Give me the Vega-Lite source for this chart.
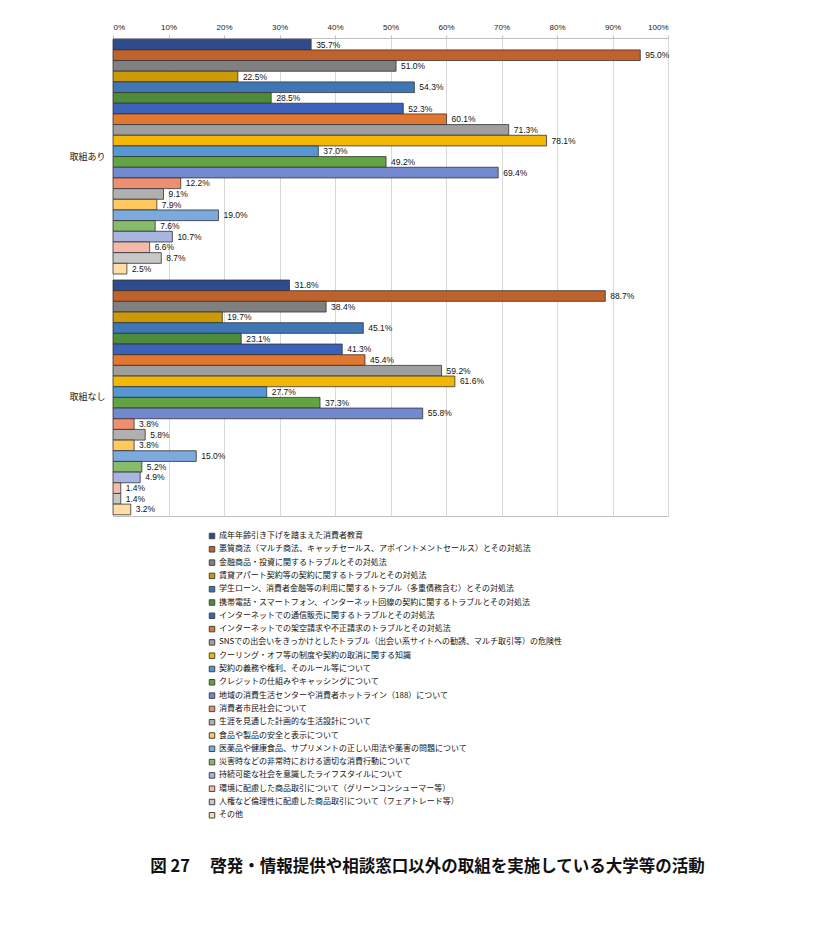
{
  "$schema": "https://vega.github.io/schema/vega-lite/v6.json",
  "autosize": {"type": "none"},
  "padding": {"left": 113, "top": 38, "right": 158, "bottom": 416},
  "width": 555,
  "height": 478,
  "background": "white",
  "title": {
    "text": "図 27　 啓発・情報提供や相談窓口以外の取組を実施している大学等の活動",
    "orient": "bottom",
    "anchor": "middle",
    "offset": 38,
    "dx": 37,
    "font": "Noto Sans CJK JP",
    "fontSize": 16.5,
    "fontWeight": "bold",
    "color": "#111"
  },
  "data": {
    "values": [
      {"o": 1, "item": "成年年齢引き下げを踏まえた消費者教育", "取組あり": 0.357, "取組なし": 0.318},
      {"o": 2, "item": "悪質商法（マルチ商法、キャッチセールス、アポイントメントセールス）とその対処法", "取組あり": 0.950, "取組なし": 0.887},
      {"o": 3, "item": "金融商品・投資に関するトラブルとその対処法", "取組あり": 0.510, "取組なし": 0.384},
      {"o": 4, "item": "賃貸アパート契約等の契約に関するトラブルとその対処法", "取組あり": 0.225, "取組なし": 0.197},
      {"o": 5, "item": "学生ローン、消費者金融等の利用に関するトラブル（多重債務含む）とその対処法", "取組あり": 0.543, "取組なし": 0.451},
      {"o": 6, "item": "携帯電話・スマートフォン、インターネット回線の契約に関するトラブルとその対処法", "取組あり": 0.285, "取組なし": 0.231},
      {"o": 7, "item": "インターネットでの通信販売に関するトラブルとその対処法", "取組あり": 0.523, "取組なし": 0.413},
      {"o": 8, "item": "インターネットでの架空請求や不正請求のトラブルとその対処法", "取組あり": 0.601, "取組なし": 0.454},
      {"o": 9, "item": "SNSでの出会いをきっかけとしたトラブル（出会い系サイトへの勧誘、マルチ取引等）の危険性", "取組あり": 0.713, "取組なし": 0.592},
      {"o": 10, "item": "クーリング・オフ等の制度や契約の取消に関する知識", "取組あり": 0.781, "取組なし": 0.616},
      {"o": 11, "item": "契約の義務や権利、そのルール等について", "取組あり": 0.370, "取組なし": 0.277},
      {"o": 12, "item": "クレジットの仕組みやキャッシングについて", "取組あり": 0.492, "取組なし": 0.373},
      {"o": 13, "item": "地域の消費生活センターや消費者ホットライン（188）について", "取組あり": 0.694, "取組なし": 0.558},
      {"o": 14, "item": "消費者市民社会について", "取組あり": 0.122, "取組なし": 0.038},
      {"o": 15, "item": "生涯を見通した計画的な生活設計について", "取組あり": 0.091, "取組なし": 0.058},
      {"o": 16, "item": "食品や製品の安全と表示について", "取組あり": 0.079, "取組なし": 0.038},
      {"o": 17, "item": "医薬品や健康食品、サプリメントの正しい用法や薬害の問題について", "取組あり": 0.190, "取組なし": 0.150},
      {"o": 18, "item": "災害時などの非常時における適切な消費行動について", "取組あり": 0.076, "取組なし": 0.052},
      {"o": 19, "item": "持続可能な社会を意識したライフスタイルについて", "取組あり": 0.107, "取組なし": 0.049},
      {"o": 20, "item": "環境に配慮した商品取引について（グリーンコンシューマー等）", "取組あり": 0.066, "取組なし": 0.014},
      {"o": 21, "item": "人権など倫理性に配慮した商品取引について（フェアトレード等）", "取組あり": 0.087, "取組なし": 0.014},
      {"o": 22, "item": "その他", "取組あり": 0.025, "取組なし": 0.032}
    ]
  },
  "transform": [
    {"fold": ["取組あり", "取組なし"], "as": ["g", "v"]}
  ],
  "config": {
    "view": {"stroke": "#bfbfbf", "strokeWidth": 1},
    "font": "Noto Sans CJK JP"
  },
  "encoding": {
    "y": {
      "field": "g",
      "type": "nominal",
      "sort": ["取組あり", "取組なし"],
      "scale": {"paddingInner": 0.025, "paddingOuter": 0.005},
      "axis": {
        "title": null,
        "ticks": false,
        "labelFontSize": 9,
        "labelColor": "#111",
        "labelPadding": 8,
        "domainColor": "#bfbfbf",
        "labelFont": "Noto Sans CJK JP"
      }
    },
    "yOffset": {
      "field": "item",
      "type": "nominal",
      "sort": {"field": "o", "op": "min"},
      "scale": {"paddingInner": 0, "paddingOuter": 0}
    },
    "x": {
      "field": "v",
      "type": "quantitative",
      "scale": {"domain": [0, 1]},
      "axis": {
        "orient": "top",
        "title": null,
        "format": "%",
        "values": [0, 0.1, 0.2, 0.3, 0.4, 0.5, 0.6, 0.7, 0.8, 0.9, 1],
        "labelFontSize": 8,
        "labelColor": "#222",
        "labelFont": "Liberation Sans",
        "gridColor": "#d9d9d9",
        "domainColor": "#bfbfbf",
        "tickColor": "#bfbfbf",
        "tickSize": 3,
        "labelPadding": 4
      }
    }
  },
  "layer": [
    {
      "mark": {"type": "bar", "stroke": "#333", "strokeWidth": 0.8},
      "encoding": {
        "color": {
          "field": "item",
          "type": "nominal",
          "sort": {"field": "o", "op": "min"},
          "scale": {
            "range": ["#2F4B8C", "#C0622B", "#808080", "#CC9A06", "#3F77B5", "#4E8B3A", "#3B62B8", "#E2772F", "#9E9E9E", "#F2B705", "#5696D2", "#62A444", "#7289CF", "#EE9070", "#B0B0B0", "#FFC95E", "#7CA9DE", "#86BC6A", "#A7B5E0", "#F4B9A8", "#C8C8C8", "#FFDDA6"]
          },
          "legend": {
            "orient": "none",
            "legendX": 95,
            "legendY": 494,
            "title": null,
            "symbolType": "square",
            "symbolSize": 30,
            "symbolStrokeColor": "#444",
            "symbolStrokeWidth": 1,
            "labelFontSize": 8,
            "labelColor": "#111",
            "labelLimit": 500,
            "rowPadding": 3.3,
            "labelOffset": 3,
            "padding": 0
          }
        }
      }
    },
    {
      "mark": {"type": "text", "align": "left", "baseline": "middle", "dx": 5, "fontSize": 8.5, "color": "#111", "font": "Liberation Sans"},
      "encoding": {
        "text": {"field": "v", "type": "quantitative", "format": ".1%"}
      }
    }
  ]
}
